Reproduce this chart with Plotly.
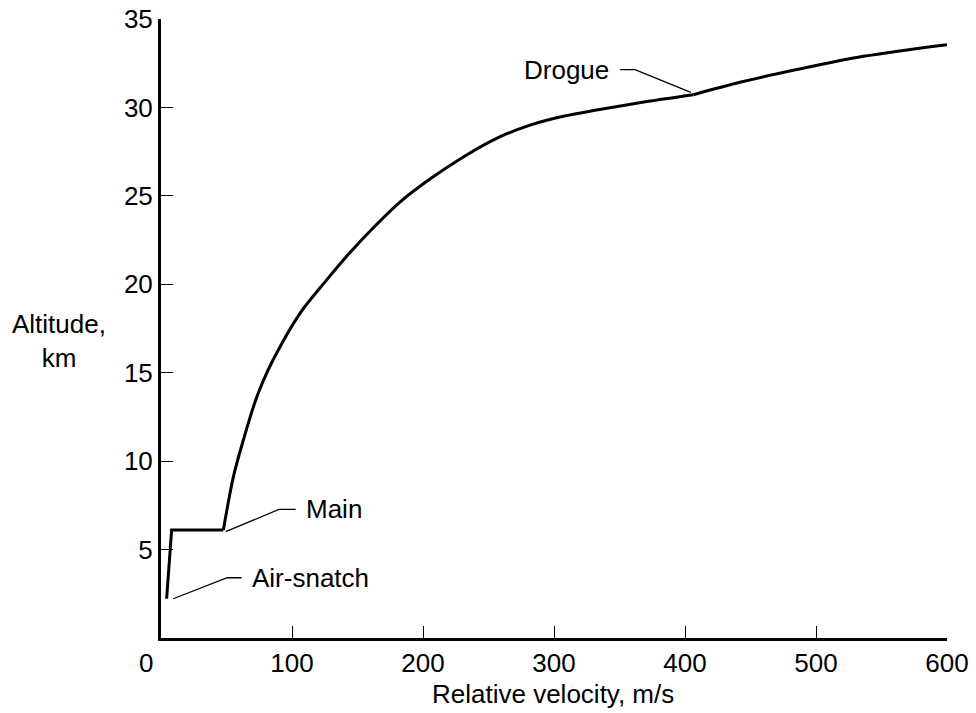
import plotly.graph_objects as go

# Relative velocity (m/s) and altitude (km) along the descent trajectory
velocity = [4.3, 8.1, 47.6, 55.2, 62.8, 71.8, 78.1, 85.7, 106.1, 126.5, 144.3,
            162.1, 182.4, 205.3, 230.8, 256.2, 281.7, 307.1, 332.5, 370.8,
            406.4, 442.0, 485.3, 536.1, 600.0]
altitude = [2.22, 6.1, 6.1, 9.1, 11.18, 13.35, 14.55, 15.75, 18.36, 20.25, 21.8,
            23.2, 24.65, 25.95, 27.2, 28.25, 29.0, 29.5, 29.85, 30.33,
            30.72, 31.42, 32.14, 32.89, 33.55]

# Event points on the trajectory (indices into the arrays above)
events = ["Air-snatch", "Main", "Drogue"]
event_idx = [0, 2, 20]

x_ticks = [100, 200, 300, 400, 500, 600]
y_ticks = [5, 10, 15, 20, 25, 30, 35]

FONT = "Liberation Sans, Arial, Helvetica, sans-serif"
FS = 26
W, H = 976, 713
ML, MR, MT, MB = 161, 29, 19, 75
X_RANGE = [0, 600]
Y_RANGE = [0, 35]
px_x = (X_RANGE[1] - X_RANGE[0]) / (W - ML - MR)
px_y = (Y_RANGE[1] - Y_RANGE[0]) / (H - MT - MB)

fig = go.Figure()
line = dict(color="black", width=3)

i_main, i_drogue = event_idx[1], event_idx[2]
# straight deployment segment, then smooth descent curve split at the drogue
fig.add_trace(go.Scatter(x=velocity[:i_main + 1], y=altitude[:i_main + 1],
                         mode="lines", line=line, hoverinfo="skip"))
fig.add_trace(go.Scatter(x=velocity[i_main:i_drogue + 1], y=altitude[i_main:i_drogue + 1],
                         mode="lines", line=dict(shape="spline", smoothing=0.9, **line),
                         hoverinfo="skip"))
fig.add_trace(go.Scatter(x=velocity[i_drogue:], y=altitude[i_drogue:],
                         mode="lines", line=dict(shape="spline", smoothing=0.9, **line),
                         hoverinfo="skip"))

# leader lines: start offset, elbow, end (pixels relative to the event point), text side
leaders = [
    ((6.6, 0), (60.6, 21), (75, 21), "right"),
    ((2.3, -1.6), (55.6, 20.7), (72.3, 20.7), "right"),
    ((-2.6, 2.3), (-58.3, 25), (-73.3, 25), "left"),
]
for name, idx, (p0, p1, p2, side) in zip(events, event_idx, leaders):
    vx, vy = velocity[idx], altitude[idx]
    pts = [(vx + p[0] * px_x, vy + p[1] * px_y) for p in (p0, p1, p2)]
    path = "M {} {} L {} {} L {} {}".format(*[c for p in pts for c in p])
    fig.add_shape(type="path", path=path, xref="x", yref="y",
                  line=dict(color="black", width=1.3))
    tx = pts[2][0] + (8 if side == "right" else -9) * px_x
    fig.add_annotation(x=tx, y=pts[2][1], xref="x", yref="y", text=name,
                       showarrow=False, xanchor="left" if side == "right" else "right",
                       yanchor="middle", font=dict(family=FONT, size=FS, color="black"))

fig.add_annotation(x=-0.1298, y=0.479, xref="paper", yref="paper",
                   text="Altitude,<br>km", showarrow=False, xanchor="center",
                   yanchor="middle", align="center",
                   font=dict(family=FONT, size=FS, color="black"))
fig.add_annotation(x=0.499, y=-0.09, xref="paper", yref="paper",
                   text="Relative velocity, m/s", showarrow=False, xanchor="center",
                   yanchor="middle", font=dict(family=FONT, size=FS, color="black"))
fig.add_annotation(x=-0.019, y=-0.041, xref="paper", yref="paper", text="0",
                   showarrow=False, xanchor="center", yanchor="middle",
                   font=dict(family=FONT, size=FS, color="black"))

axis_common = dict(showgrid=False, zeroline=False, showline=True, linecolor="black",
                   linewidth=3, ticks="inside", ticklen=12, tickwidth=1.3,
                   tickcolor="black", automargin=False,
                   tickfont=dict(family=FONT, size=FS, color="black"))
fig.update_xaxes(range=X_RANGE, tickvals=x_ticks, **axis_common)
fig.update_yaxes(range=Y_RANGE, tickvals=y_ticks, **axis_common)

fig.update_layout(width=W, height=H, margin=dict(l=ML, r=MR, t=MT, b=MB),
                  plot_bgcolor="white", paper_bgcolor="white", showlegend=False)

fig.write_html("out.html")
